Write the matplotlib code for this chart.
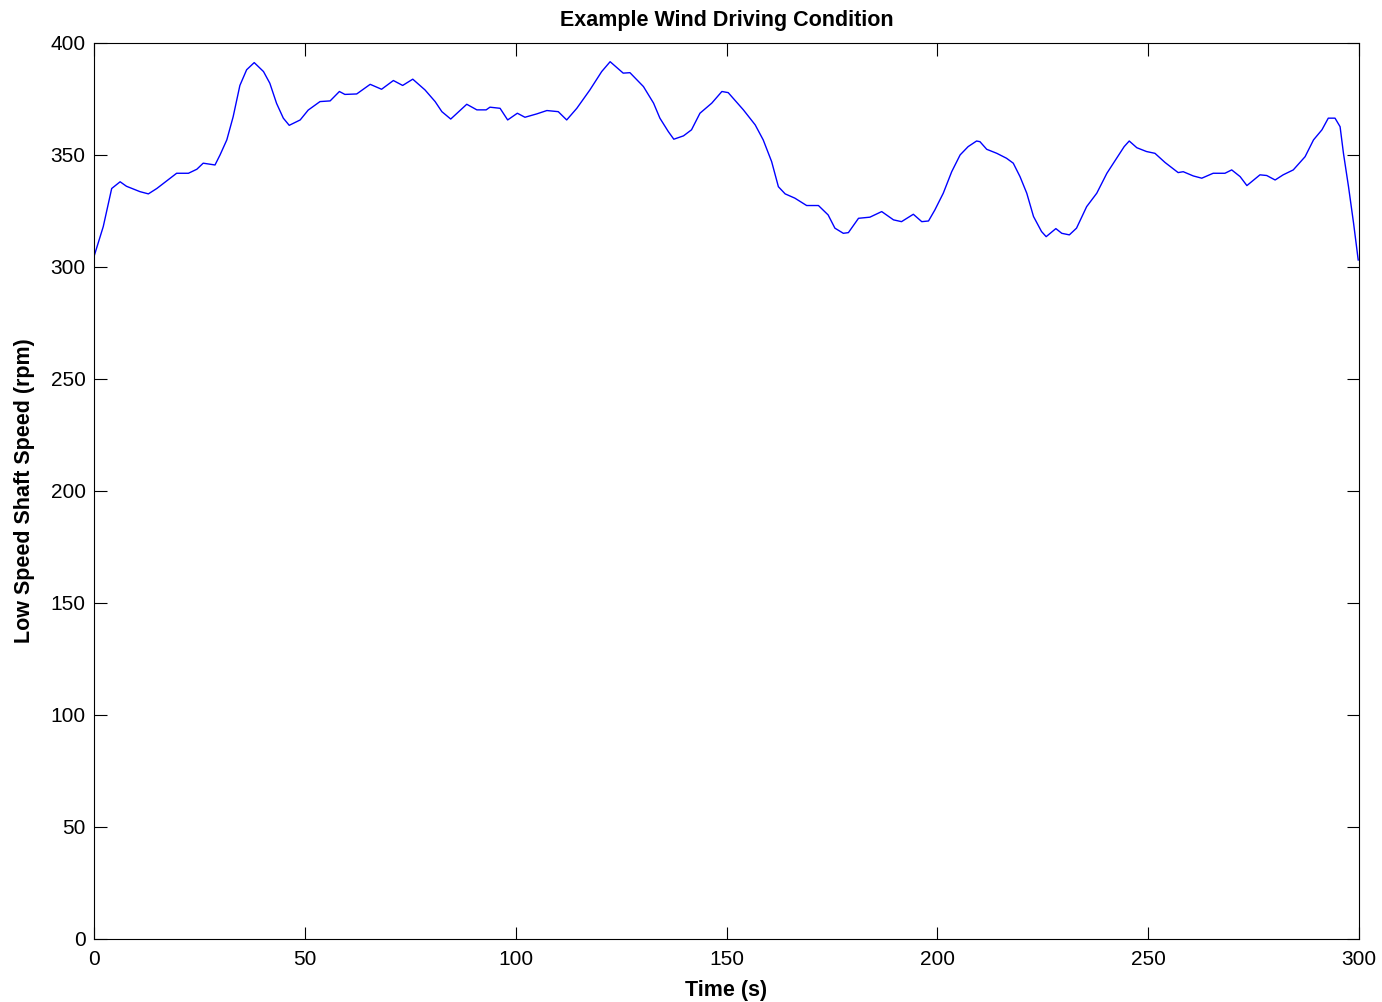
import numpy as np
import matplotlib
matplotlib.use('Agg')
import matplotlib.pyplot as plt

plt.rcParams['font.family'] = ['Liberation Sans', 'DejaVu Sans']

# low speed shaft speed trace, time in s and speed in rpm
time_s = [0.0, 2.2, 4.2, 6.2, 7.7, 10.9, 12.9, 14.9, 19.6, 22.4, 24.4, 25.9, 28.7, 29.9,
          31.5, 33.0, 34.6, 36.2, 38.0, 40.2, 41.7, 43.3, 44.9, 46.3, 48.9, 50.8, 53.6,
          56.0, 58.2, 59.5, 62.3, 65.5, 68.2, 71.0, 73.2, 75.6, 78.5, 80.9, 82.5, 84.6,
          88.4, 90.8, 93.0, 93.9, 96.3, 98.1, 100.4, 102.2, 105.0, 107.4, 110.1, 112.1,
          114.5, 117.6, 120.4, 122.4, 125.5, 127.1, 130.3, 132.7, 134.2, 136.2, 137.5,
          139.8, 141.7, 143.7, 146.5, 148.9, 150.4, 154.0, 156.8, 158.7, 160.7, 162.3,
          163.9, 166.2, 169.0, 171.8, 174.1, 175.7, 177.7, 178.9, 181.3, 184.0, 186.8,
          189.6, 191.5, 194.3, 196.3, 197.9, 199.4, 201.4, 203.4, 205.4, 207.3, 209.3,
          210.1, 211.7, 214.1, 216.4, 218.0, 219.6, 221.2, 222.8, 224.7, 225.8, 228.1,
          229.5, 231.3, 233.0, 235.4, 237.8, 240.2, 242.5, 244.3, 245.5, 247.3, 249.6,
          251.6, 254.0, 257.1, 258.3, 260.7, 262.7, 265.4, 268.2, 269.8, 271.8, 273.4,
          276.5, 278.1, 280.1, 282.0, 284.4, 287.2, 289.2, 291.2, 292.7, 294.3, 295.5,
          296.3, 297.5, 298.7, 299.8]
speed_rpm = [304.6, 318.0, 335.0, 338.0, 336.0, 333.6, 332.6, 335.0, 341.8, 341.8, 343.6,
             346.3, 345.5, 350.0, 356.7, 367.0, 381.0, 388.0, 391.2, 387.2, 382.0, 373.0,
             366.4, 363.2, 365.6, 370.0, 373.8, 374.1, 378.3, 377.0, 377.2, 381.5, 379.3,
             383.2, 381.0, 383.8, 379.0, 373.8, 369.3, 366.0, 372.6, 370.1, 370.1, 371.3,
             370.8, 365.6, 368.6, 366.8, 368.3, 369.8, 369.3, 365.6, 370.8, 379.0, 387.2,
             391.6, 386.5, 386.7, 380.5, 373.1, 366.4, 360.4, 357.0, 358.5, 361.2, 368.6,
             373.1, 378.3, 377.8, 370.1, 363.4, 356.7, 347.0, 335.8, 332.6, 330.7, 327.4,
             327.4, 323.2, 317.3, 315.0, 315.3, 321.7, 322.2, 324.7, 321.0, 320.2, 323.5,
             320.2, 320.5, 325.4, 332.9, 342.5, 350.0, 353.7, 356.2, 355.9, 352.5, 350.7,
             348.5, 346.3, 340.3, 332.9, 322.5, 315.8, 313.5, 317.1, 315.0, 314.3, 317.3,
             326.9, 332.9, 341.8, 348.5, 353.7, 356.2, 353.2, 351.5, 350.7, 346.6, 342.1,
             342.5, 340.6, 339.6, 341.8, 341.8, 343.3, 340.3, 336.3, 341.1, 340.8, 338.8,
             341.1, 343.3, 349.2, 356.7, 361.2, 366.4, 366.4, 362.6, 350.7, 335.8, 319.5,
             303.1]

fig = plt.figure(figsize=(13.82, 10.02), dpi=100)
ax = fig.add_axes([0.068, 0.0629, 0.9154, 0.8943])

ax.plot(time_s, speed_rpm, color='#0000ff', linewidth=1.0)

ax.set_xlim(0, 300)
ax.set_ylim(0, 400)
ax.set_xticks(np.arange(0, 301, 50))
ax.set_yticks(np.arange(0, 401, 50))
ax.tick_params(direction='in', top=True, right=True, length=9, width=0.8, labelsize=15, pad=6)
ax.tick_params(axis='x', pad=8)
for s in ax.spines.values():
    s.set_linewidth(0.8)

ax.set_title('Example Wind Driving Condition', fontsize=15.5, fontweight='bold', pad=12)
ax.set_xlabel('Time (s)', fontsize=15.5, fontweight='bold', labelpad=8)
ax.set_ylabel('Low Speed Shaft Speed (rpm)', fontsize=15.5, fontweight='bold', labelpad=11)

fig.savefig('out.png', dpi=100)
